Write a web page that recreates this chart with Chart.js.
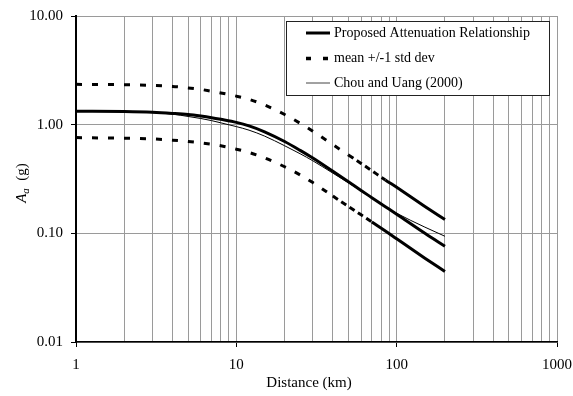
<!DOCTYPE html>
<html><head><meta charset="utf-8">
<script src="https://cdn.jsdelivr.net/npm/chart.js@4.4.1/dist/chart.umd.min.js"></script>
<style>html,body{margin:0;padding:0;background:#fff}#wrap{width:573px;height:396px}</style>
</head><body><div id="wrap"><canvas id="c" width="573" height="396"></canvas></div>
<script>
// ---- data ----
const distances = [1, 2, 3, 4, 5, 6, 7, 8, 10, 12, 15, 20, 25, 30, 40, 50, 60, 70, 85, 100, 150, 200];
const proposed  = [1.33, 1.32, 1.30, 1.27, 1.24, 1.20, 1.16, 1.12, 1.05, 0.975, 0.86, 0.70, 0.58, 0.493, 0.372, 0.298, 0.248, 0.213, 0.176, 0.15, 0.10, 0.076];
const upperStd  = [2.35, 2.33, 2.30, 2.25, 2.18, 2.11, 2.03, 1.96, 1.83, 1.71, 1.52, 1.24, 1.03, 0.87, 0.655, 0.525, 0.44, 0.377, 0.31, 0.265, 0.177, 0.134];
const lowerStd  = [0.76, 0.75, 0.74, 0.72, 0.70, 0.68, 0.66, 0.64, 0.595, 0.555, 0.495, 0.41, 0.345, 0.293, 0.22, 0.177, 0.148, 0.127, 0.105, 0.089, 0.059, 0.0445];
const chouUang  = [1.33, 1.32, 1.29, 1.25, 1.19, 1.14, 1.09, 1.04, 0.96, 0.89, 0.785, 0.64, 0.54, 0.465, 0.358, 0.292, 0.245, 0.211, 0.176, 0.153, 0.114, 0.094];
const xTickValues = [1,2,3,4,5,6,7,8,9,10,20,30,40,50,60,70,80,90,100,200,300,400,500,600,700,800,900,1000];
const yTickValues = [0.01, 0.1, 1, 10];
const legendLabels = ['Proposed Attenuation Relationship', 'mean +/-1 std dev', 'Chou and Uang (2000)'];
const xTitle = 'Distance (km)';

const FONT = "'Liberation Serif', 'Times New Roman', serif";
const pts = arr => distances.map((d, i) => ({x: d, y: arr[i]}));
const isDecade = v => Math.abs(Math.log10(v) - Math.round(Math.log10(v))) < 1e-9;
const DASH = [6, 10];
const DENSE = [6, 4];

const legendPlugin = {
  id: 'boxLegend',
  afterDatasetsDraw(chart) {
    const ctx = chart.ctx;
    const x0 = 286, y0 = 21, w = 263, h = 74;
    ctx.save();
    ctx.fillStyle = '#fff';
    ctx.fillRect(x0, y0, w, h);
    ctx.strokeStyle = '#222';
    ctx.lineWidth = 1;
    ctx.strokeRect(x0 + 0.5, y0 + 0.5, w, h);
    const rows = [33, 58.5, 83];
    const styles = [{lw: 3, dash: []}, {lw: 3.5, dash: [5, 12]}, {lw: 1, dash: [], color: '#444'}];
    rows.forEach((y, i) => {
      ctx.beginPath();
      ctx.setLineDash(styles[i].dash);
      ctx.lineWidth = styles[i].lw;
      ctx.strokeStyle = styles[i].color || '#000';
      ctx.moveTo(306, y);
      ctx.lineTo(330, y);
      ctx.stroke();
      ctx.setLineDash([]);
      ctx.fillStyle = '#000';
      ctx.font = '14px ' + FONT;
      ctx.textBaseline = 'middle';
      ctx.textAlign = 'left';
      ctx.fillText(legendLabels[i], 334, y);
    });
    ctx.restore();
  }
};

const titlePlugin = {
  id: 'axisTitles',
  afterDraw(chart) {
    const ctx = chart.ctx;
    ctx.save();
    ctx.fillStyle = '#000';
    ctx.font = '15px ' + FONT;
    ctx.textAlign = 'center';
    ctx.textBaseline = 'middle';
    ctx.fillText(xTitle, 309, 383);
    ctx.translate(21, 183);
    ctx.rotate(-Math.PI / 2);
    ctx.textAlign = 'left';
    ctx.textBaseline = 'alphabetic';
    const partA = 'A', partSub = 'a', partRest = '  (g)';
    ctx.font = 'italic 15px ' + FONT;
    const wA = ctx.measureText(partA).width;
    ctx.font = 'italic 11px ' + FONT;
    const wS = ctx.measureText(partSub).width;
    ctx.font = '15px ' + FONT;
    const wR = ctx.measureText(partRest).width;
    let x = -(wA + wS + wR) / 2;
    const base = 5;
    ctx.font = 'italic 15px ' + FONT;
    ctx.fillText(partA, x, base); x += wA;
    ctx.font = 'italic 11px ' + FONT;
    ctx.fillText(partSub, x, base + 3); x += wS;
    ctx.font = '15px ' + FONT;
    ctx.fillText(partRest, x, base);
    ctx.restore();
  }
};

const common = {pointRadius: 0, pointHoverRadius: 0, borderColor: '#000', fill: false, cubicInterpolationMode: 'monotone'};
const dashSeg = (solidFrom, denseFrom) => ({
  borderDash: c => c.p0.parsed.x >= solidFrom ? [] : (c.p0.parsed.x >= denseFrom ? DENSE : DASH)
});

new Chart(document.getElementById('c'), {
  type: 'line',
  data: {
    datasets: [
      Object.assign({label: legendLabels[1], data: pts(upperStd), borderWidth: 3, borderDash: DASH, segment: dashSeg(85, 50)}, common),
      Object.assign({label: legendLabels[1] + ' (lower)', data: pts(lowerStd), borderWidth: 3, borderDash: DASH, segment: dashSeg(70, 40)}, common),
      Object.assign({label: legendLabels[2], data: pts(chouUang), borderWidth: 1}, common),
      Object.assign({label: legendLabels[0], data: pts(proposed), borderWidth: 3}, common)
    ]
  },
  options: {
    responsive: false,
    animation: false,
    devicePixelRatio: 1,
    layout: {padding: {top: 16, right: 16, left: 0, bottom: 0}},
    plugins: {legend: {display: false}, tooltip: {enabled: false}, title: {display: false}},
    scales: {
      x: {
        type: 'logarithmic', min: 1, max: 1000, position: 'bottom',
        afterBuildTicks: s => { s.ticks = xTickValues.map(v => ({value: v})); },
        afterFit: s => { s.height = 54; s.paddingLeft = 0; s.paddingRight = 0; },
        ticks: {
          autoSkip: false, maxRotation: 0, minRotation: 0, padding: 9,
          color: '#000', font: {family: FONT, size: 15},
          callback: v => isDecade(v) ? String(Math.round(v)) : ''
        },
        grid: {
          color: '#9a9a9a', lineWidth: 1, tickLength: 5,
          tickColor: c => (c.tick && isDecade(c.tick.value)) ? '#000' : 'rgba(0,0,0,0)'
        },
        border: {color: '#000', width: 1.5}
      },
      y: {
        type: 'logarithmic', min: 0.01, max: 10, position: 'left',
        afterBuildTicks: s => { s.ticks = yTickValues.map(v => ({value: v})); },
        afterFit: s => { s.width = 76; s.paddingTop = 0; s.paddingBottom = 0; },
        ticks: {
          padding: 8, color: '#000', font: {family: FONT, size: 15},
          callback: v => Number(v).toFixed(2)
        },
        grid: {color: '#9a9a9a', lineWidth: 1, tickLength: 5, tickColor: '#000'},
        border: {color: '#000', width: 2}
      }
    }
  },
  plugins: [legendPlugin, titlePlugin]
});
</script>
</body></html>
